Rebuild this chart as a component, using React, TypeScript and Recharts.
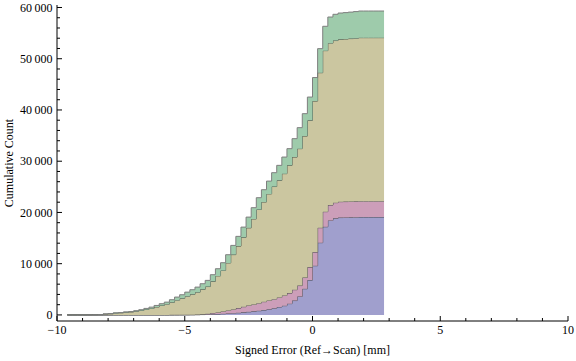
import React from 'react';
import { AreaChart, Area, XAxis, YAxis } from 'recharts';

// Bin edges (mm); the last edge closes the final bin
const binEdges = [
  -9.6, -9.4, -9.2, -9.0, -8.8, -8.6, -8.4, -8.2, -8.0, -7.8, -7.6, -7.4, -7.2, -7.0, -6.8, -6.6,
  -6.4, -6.2, -6.0, -5.8, -5.6, -5.4, -5.2, -5.0, -4.8, -4.6, -4.4, -4.2, -4.0, -3.8, -3.6, -3.4,
  -3.2, -3.0, -2.8, -2.6, -2.4, -2.2, -2.0, -1.8, -1.6, -1.4, -1.2, -1.0, -0.8, -0.6, -0.4, -0.2,
  0.0, 0.2, 0.4, 0.6, 0.8, 1.0, 1.2, 1.4, 1.6, 1.8, 2.0, 2.2, 2.4, 2.6, 2.8,
];

// Cumulative counts per bin, for each stacked group
const blueCounts = [
  0, 0, 0, 0, 0, 0, 0, 0, 0, 0, 0, 0, 0, 0, 0, 0, 0, 0, 0, 0, 0,
  5, 10, 20, 30, 50, 70, 100, 130, 170, 220, 280, 350, 420, 500, 600, 700, 820, 950, 1100,
  1300, 1550, 1800, 2200, 2800, 3600, 5100, 6800, 9600, 14100, 17200, 18450, 18850, 19000,
  19020, 19050, 19070, 19100, 19100, 19100, 19100, 19100,
];
const pinkCounts = [
  0, 0, 0, 0, 0, 0, 0, 0, 0, 0, 0, 0, 0, 0, 0, 0, 0, 0, 0, 0,
  10, 10, 10, 10, 10, 10,
  40, 130, 250, 310, 460, 600, 720, 910, 1100, 1250, 1350, 1480, 1630, 1730, 1780, 1870, 2010,
  2060, 2120, 2130, 2200, 2530, 2660, 2920, 2950, 2990, 3060,
  3100, 3100, 3100, 3100, 3100, 3100, 3100, 3100, 3100,
];
const tanCounts = [
  10, 15, 20, 25, 30, 40, 60, 170, 220, 350, 410, 510, 580, 720, 870, 1070, 1270, 1550, 1840,
  2100, 2460, 2870, 3220, 3620, 3980, 4370, 4880, 5310, 6170, 7140, 8010, 9270, 10700, 12100,
  13540, 15140, 16680, 18280, 19460, 20790, 21980, 22840, 23760, 24930, 25890, 26720, 27610,
  28640, 29480, 30250, 31430, 31600, 31640, 31680, 31730, 31780, 31830,
  31910, 31910, 31910, 31910, 31910,
];
const greenCounts = [
  0, 0, 0, 0, 0, 0, 0, 20, 20, 50, 50, 80, 80, 100, 150, 200, 250, 300, 350, 400, 500, 600,
  700, 800, 900, 1000, 1100, 1200, 1300, 1400, 1500, 1600, 1800, 1900, 2000, 2100, 2200, 2300,
  2400, 2500, 2700, 2930, 3240, 3260, 3590, 4100, 4370, 4550, 4590, 4700, 4750, 5100, 5120,
  5140, 5150, 5170, 5200, 5200, 5200, 5200, 5200, 5200,
];

const xTicks = [-10, -9, -8, -7, -6, -5, -4, -3, -2, -1, 0, 1, 2, 3, 4, 5, 6, 7, 8, 9, 10];
const xTickLabels: Record<string, string> = {
  '-10': '\u221210', '-5': '\u22125', '0': '0', '5': '5', '10': '10',
};
const yTicks = [
  0, 2000, 4000, 6000, 8000, 10000, 12000, 14000, 16000, 18000, 20000, 22000, 24000, 26000,
  28000, 30000, 32000, 34000, 36000, 38000, 40000, 42000, 44000, 46000, 48000, 50000, 52000,
  54000, 56000, 58000, 60000,
];
const yTickLabels: Record<string, string> = {
  '0': '0', '10000': '10\u2009000', '20000': '20\u2009000', '30000': '30\u2009000',
  '40000': '40\u2009000', '50000': '50\u2009000', '60000': '60\u2009000',
};

const xLabel = 'Signed Error (Ref\u2192Scan) [mm]';
const yLabel = 'Cumulative Count';

const n = blueCounts.length;
const data = binEdges.map((x, i) => {
  const j = Math.min(i, n - 1);
  return { x, blue: blueCounts[j], pink: pinkCounts[j], tan: tanCounts[j], green: greenCounts[j] };
});

const FONT = '"Liberation Serif", "Times New Roman", serif';

const BottomTick = (p: any) => {
  const v = p.payload.value;
  const label = xTickLabels[String(v)];
  const len = label !== undefined ? 5 : 3;
  return (
    <g>
      <line x1={p.x} y1={p.y} x2={p.x} y2={p.y - len} stroke="#000" strokeWidth={1} />
      {label !== undefined && (
        <text x={p.x} y={p.y + 13} textAnchor="middle" fontFamily={FONT} fontSize={12} fill="#000">
          {label}
        </text>
      )}
    </g>
  );
};

const TopTick = (p: any) => {
  const v = p.payload.value;
  const len = xTickLabels[String(v)] !== undefined ? 5 : 3;
  return <line x1={p.x} y1={p.y} x2={p.x} y2={p.y + len} stroke="#000" strokeWidth={1} />;
};

const LeftTick = (p: any) => {
  const v = p.payload.value;
  const label = yTickLabels[String(v)];
  const len = label !== undefined ? 5 : 3;
  return (
    <g>
      <line x1={p.x} y1={p.y} x2={p.x + len} y2={p.y} stroke="#000" strokeWidth={1} />
      {label !== undefined && (
        <text x={p.x - 4.5} y={p.y} dy="0.35em" textAnchor="end" fontFamily={FONT} fontSize={12} fill="#000">
          {label}
        </text>
      )}
    </g>
  );
};

const RightTick = (p: any) => {
  const v = p.payload.value;
  const len = yTickLabels[String(v)] !== undefined ? 5 : 3;
  return <line x1={p.x} y1={p.y} x2={p.x - len} y2={p.y} stroke="#000" strokeWidth={1} />;
};

const XLabel = (p: any) => {
  const vb = p.viewBox || { x: 57, y: 321, width: 511, height: 40 };
  return (
    <text x={vb.x + vb.width / 2} y={vb.y + vb.height - 7} textAnchor="middle" fontFamily={FONT} fontSize={12} fill="#000">
      {xLabel}
    </text>
  );
};

const YLabel = (p: any) => {
  const vb = p.viewBox || { x: 0, y: 5, width: 57, height: 316 };
  const cx = vb.x + 8.5;
  const cy = vb.y + vb.height / 2;
  return (
    <text x={cx} y={cy} dy="0.35em" textAnchor="middle" transform={`rotate(-90, ${cx}, ${cy})`} fontFamily={FONT} fontSize={12} fill="#000">
      {yLabel}
    </text>
  );
};

export default function App() {
  return (
    <div style={{ position: 'absolute', left: 0, top: 0, width: 576, height: 361, background: '#fff' }}>
      <AreaChart width={576} height={361} data={data} margin={{ top: 5, right: 8, bottom: 0, left: 0 }}>
        <XAxis
          xAxisId="b" dataKey="x" type="number" domain={[-10, 10]} ticks={xTicks} interval={0}
          allowDataOverflow height={40} tickLine={false} tickSize={0} tickMargin={0}
          axisLine={{ stroke: '#000' }} tick={<BottomTick />} label={<XLabel />}
        />
        <XAxis
          xAxisId="t" orientation="top" dataKey="x" type="number" domain={[-10, 10]} ticks={xTicks}
          interval={0} allowDataOverflow height={0} tickLine={false} tickSize={0} tickMargin={0}
          axisLine={{ stroke: '#000' }} tick={<TopTick />}
        />
        <YAxis
          yAxisId="l" type="number" domain={[-1186, 60486]} ticks={yTicks} interval={0}
          allowDataOverflow width={57} tickLine={false} tickSize={0} tickMargin={0}
          axisLine={{ stroke: '#000' }} tick={<LeftTick />} label={<YLabel />}
        />
        <YAxis
          yAxisId="r" orientation="right" type="number" domain={[-1186, 60486]} ticks={yTicks}
          interval={0} allowDataOverflow width={0} tickLine={false} tickSize={0} tickMargin={0}
          axisLine={{ stroke: '#000' }} tick={<RightTick />}
        />
        <Area xAxisId="b" yAxisId="l" type="stepAfter" dataKey="blue" stackId="s" fill="#a09fcd" fillOpacity={1} stroke="#4e4e58" strokeWidth={1} isAnimationActive={false} />
        <Area xAxisId="b" yAxisId="l" type="stepAfter" dataKey="pink" stackId="s" fill="#cc9eb9" fillOpacity={1} stroke="#545454" strokeWidth={1} isAnimationActive={false} />
        <Area xAxisId="b" yAxisId="l" type="stepAfter" dataKey="tan" stackId="s" fill="#cbc6a0" fillOpacity={1} stroke="#4f5a4f" strokeWidth={1} isAnimationActive={false} />
        <Area xAxisId="b" yAxisId="l" type="stepAfter" dataKey="green" stackId="s" fill="#9ecbab" fillOpacity={1} stroke="#7f7f7f" strokeWidth={1} isAnimationActive={false} />
      </AreaChart>
    </div>
  );
}
